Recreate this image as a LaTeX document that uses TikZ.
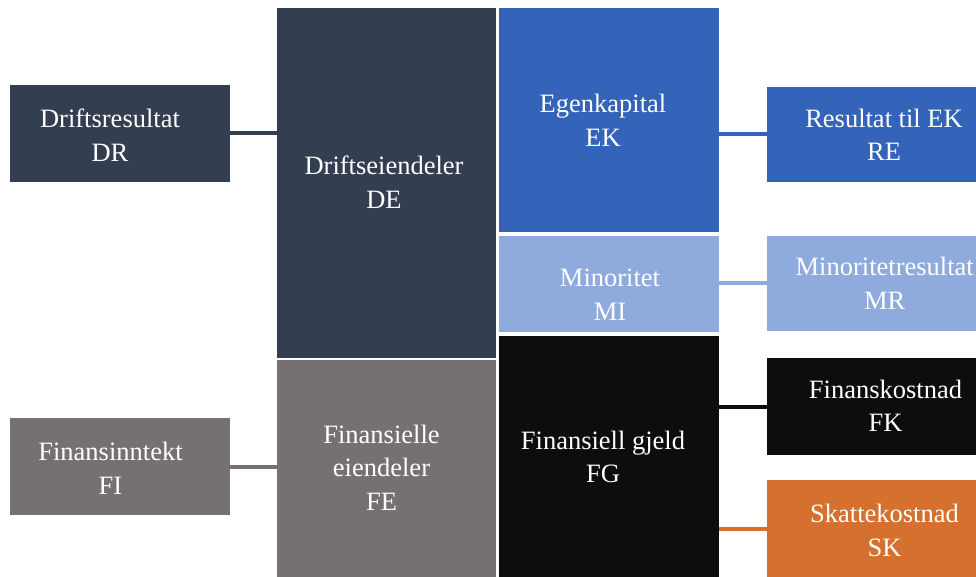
\documentclass[tikz,border=0pt]{standalone}
\usepackage{fontspec}
\setmainfont{Liberation Serif}
\definecolor{slate}{HTML}{333F50}
\definecolor{stone}{HTML}{767171}
\definecolor{royal}{HTML}{3464B9}
\definecolor{sky}{HTML}{8FAADC}
\definecolor{ink}{HTML}{0D0D0D}
\definecolor{rust}{HTML}{D5702F}
\begin{document}
\begin{tikzpicture}[x=1pt,y=-1pt,
  box/.style={rectangle, inner sep=0pt, outer sep=0pt, draw=none, anchor=center},
  lbl/.style={text=white, align=center, anchor=base, inner sep=0pt,
    font=\fontsize{26.5}{33.5}\selectfont},
  link/.style={line width=4pt}]
\useasboundingbox (0,0) rectangle (976,576);
\clip (0,0) rectangle (976,576);
\fill[white] (0,0) rectangle (976,576);

% left column: results feeding the assets
\node[box, fill=slate, minimum width=220pt, minimum height=97.5pt] (DR) at (120,133.25) {};
\node[box, fill=stone, minimum width=220pt, minimum height=97pt]   (FI) at (120,466.5) {};

% assets
\node[box, fill=slate, minimum width=219pt, minimum height=349.5pt] (DE) at (386.5,182.75) {};
\node[box, fill=stone, minimum width=219pt, minimum height=217.5pt] (FE) at (386.5,468.25) {};

% equity and liabilities
\node[box, fill=royal, minimum width=220pt, minimum height=223.5pt] (EK) at (609,119.75) {};
\node[box, fill=sky,   minimum width=220pt, minimum height=96pt]    (MI) at (609,283.5) {};
\node[box, fill=ink,   minimum width=220pt, minimum height=241pt]   (FG) at (609,456.5) {};

% right column: results and costs
\node[box, fill=royal, minimum width=235pt, minimum height=95.5pt] (RE) at (884.5,134.25) {};
\node[box, fill=sky,   minimum width=235pt, minimum height=95pt]   (MR) at (884.5,283) {};
\node[box, fill=ink,   minimum width=235pt, minimum height=97pt]   (FK) at (884.5,406.5) {};
\node[box, fill=rust,  minimum width=235pt, minimum height=97pt]   (SK) at (884.5,528.5) {};

% connectors
\draw[link, slate] (DR.east) -- (DR.east -| DE.west);
\draw[link, stone] (FI.east) -- (FI.east -| FE.west);
\draw[link, royal] (RE.west -| EK.east) -- (RE.west);
\draw[link, sky]   (MR.west -| MI.east) -- (MR.west);
\draw[link, ink]   (FK.west -| FG.east) -- (FK.west);
\draw[link, rust]  (SK.west -| FG.east) -- (SK.west);

% labels (anchored at the baseline of their last line)
\node[lbl] (DRt) at (110,161)   {Driftsresultat\\DR};
\node[lbl] (FIt) at (110.5,494) {Finansinntekt\\FI};
\node[lbl] (DEt) at (384,208)   {Driftseiendeler\\DE};
\node[lbl] (FEt) at (381.5,510) {Finansielle\\eiendeler\\FE};
\node[lbl] (EKt) at (603,146)   {Egenkapital\\EK};
\node[lbl] (MIt) at (610,320)   {Minoritet\\MI};
\node[lbl] (FGt) at (603,482.7) {Finansiell gjeld\\FG};
\node[lbl] (REt) at (884,160.7) {Resultat til EK\\RE};
\node[lbl] (MRt) at (884.7,309) {Minoritetresultat\\MR};
\node[lbl] (FKt) at (885.5,431.7) {Finanskostnad\\FK};
\node[lbl] (SKt) at (884.5,556) {Skattekostnad\\SK};
\end{tikzpicture}
\end{document}
